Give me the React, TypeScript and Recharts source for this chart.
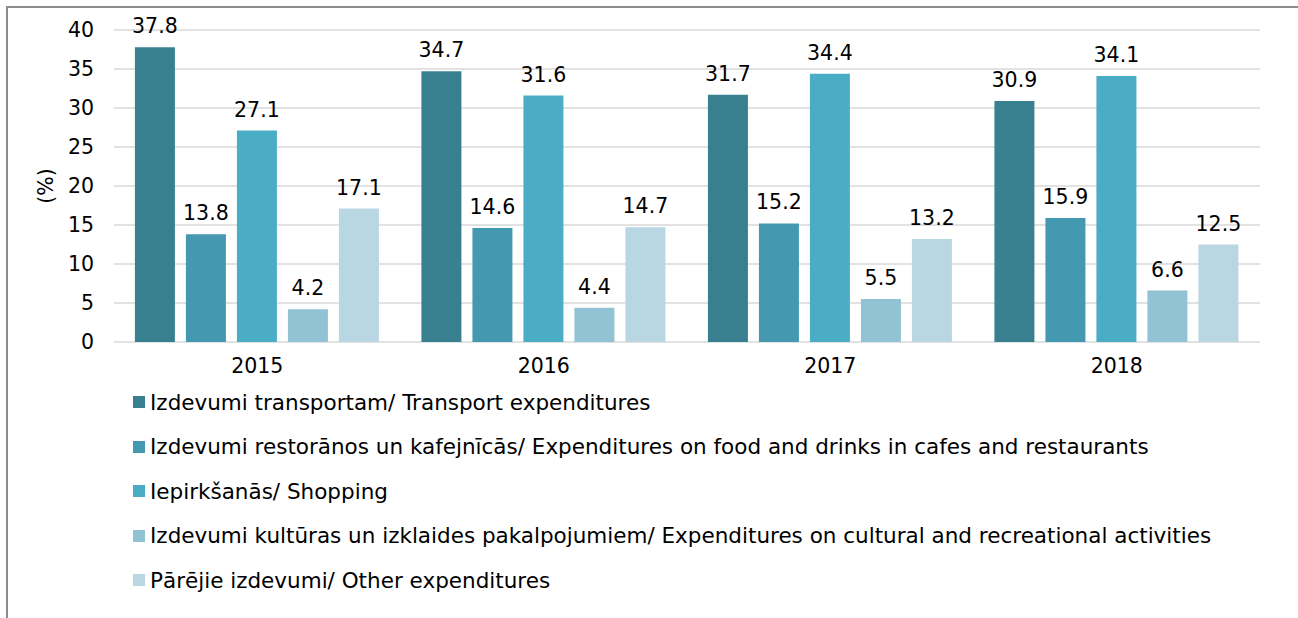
import React from "react";
import { BarChart, Bar, XAxis, YAxis, CartesianGrid, Legend, LabelList } from "recharts";

const years = ["2015", "2016", "2017", "2018"];
const transport = [37.8, 34.7, 31.7, 30.9];
const food = [13.8, 14.6, 15.2, 15.9];
const shopping = [27.1, 31.6, 34.4, 34.1];
const culture = [4.2, 4.4, 5.5, 6.6];
const other = [17.1, 14.7, 13.2, 12.5];
const yTicks = [0, 5, 10, 15, 20, 25, 30, 35, 40];

const series = [
  { key: "transport", name: "Izdevumi transportam/ Transport expenditures", color: "#38808F" },
  { key: "food", name: "Izdevumi restorānos un kafejnīcās/ Expenditures on food and drinks in cafes and restaurants", color: "#4499B0" },
  { key: "shopping", name: "Iepirkšanās/ Shopping", color: "#4BACC6" },
  { key: "culture", name: "Izdevumi kultūras un izklaides pakalpojumiem/ Expenditures on cultural and recreational activities", color: "#92C3D4" },
  { key: "other", name: "Pārējie izdevumi/ Other expenditures", color: "#B9D7E3" },
];

const data = years.map((year, i) => ({
  year,
  transport: transport[i],
  food: food[i],
  shopping: shopping[i],
  culture: culture[i],
  other: other[i],
}));

const font = "'DejaVu Sans', Verdana, sans-serif";

const renderLegend = () => (
  <div style={{ fontFamily: font, fontSize: 21.5, color: "#000" }}>
    {series.map((s) => (
      <div key={s.key} style={{ display: "flex", alignItems: "center", height: 44.5, whiteSpace: "nowrap" }}>
        <span style={{ display: "inline-block", width: 12, height: 12, background: s.color, marginRight: 5 }} />
        <span>{s.name}</span>
      </div>
    ))}
  </div>
);

export default function App() {
  return (
    <div style={{ position: "absolute", left: 0, top: 0, width: 1298, height: 618, background: "#fff", overflow: "hidden" }}>
      <div
        style={{
          position: "absolute",
          left: 6,
          top: 6,
          width: 1400,
          height: 700,
          borderLeft: "2px solid #8c8c8c",
          borderTop: "2px solid #8c8c8c",
        }}
      />
      <BarChart
        width={1298}
        height={618}
        data={data}
        margin={{ top: 30, right: 38, left: 0, bottom: 246 }}
        barCategoryGap="7.3%"
        barGap={11}
        style={{ fontFamily: font }}
      >
        <CartesianGrid vertical={false} stroke="#d9d9d9" strokeWidth={1.5} />
        <XAxis
          dataKey="year"
          axisLine={false}
          tickLine={false}
          tickSize={0}
          tickMargin={16}
          height={30}
          tick={{ fill: "#000", fontSize: 20.5 }}
        />
        <YAxis
          width={114}
          domain={[0, 40]}
          ticks={yTicks}
          axisLine={false}
          tickLine={false}
          tickSize={0}
          tickMargin={20}
          tick={{ fill: "#000", fontSize: 20.5 }}
          label={{ value: "(%)", angle: -90, position: "center", dx: -11, fill: "#000", fontSize: 20.5 }}
        />
        <Legend
          content={renderLegend}
          layout="vertical"
          align="center"
          verticalAlign="middle"
          wrapperStyle={{ top: 380, left: 133, width: 1160 }}
        />
        {series.map((s) => (
          <Bar key={s.key} dataKey={s.key} name={s.name} fill={s.color} isAnimationActive={false}>
            <LabelList dataKey={s.key} position="top" offset={14} fill="#000" fontSize={20.5} />
          </Bar>
        ))}
      </BarChart>
    </div>
  );
}
